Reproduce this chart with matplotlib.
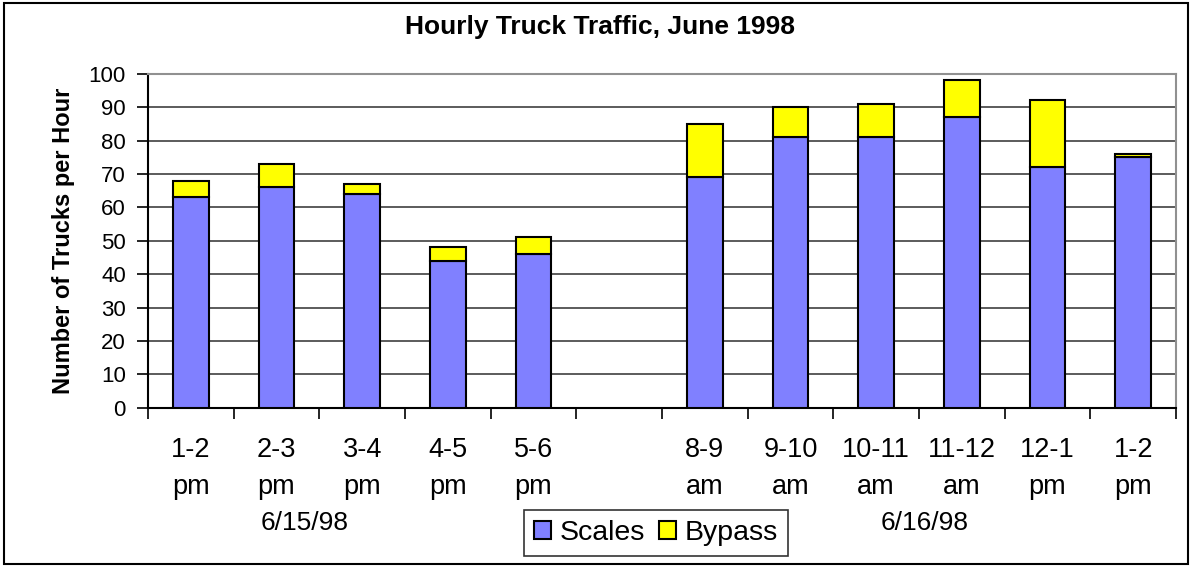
import numpy as np
import matplotlib
matplotlib.use("Agg")
import matplotlib.pyplot as plt
from matplotlib.patches import Rectangle

plt.rcParams['font.family'] = ['Liberation Sans', 'DejaVu Sans']

# hour slots, the empty one separates the two days
hours = ["1-2\npm", "2-3\npm", "3-4\npm", "4-5\npm", "5-6\npm", "",
         "8-9\nam", "9-10\nam", "10-11\nam", "11-12\nam", "12-1\npm", "1-2\npm"]
scales = [63, 66, 64, 44, 46, None, 69, 81, 81, 87, 72, 75]
bypass = [5, 7, 3, 4, 5, None, 16, 9, 10, 11, 20, 1]
days = ["6/15/98", "6/16/98"]
day_pos = [1.33, 8.57]

W, H = 1193, 567
fig = plt.figure(figsize=(W / 100, H / 100), dpi=100)
ax = fig.add_axes([148 / W, (H - 407.7) / H, (1176 - 148) / W, (407.7 - 73.7) / H])

x = np.arange(len(hours))
keep = [i for i in x if scales[i] is not None]
sc = [scales[i] for i in keep]
bp = [bypass[i] for i in keep]
ax.bar(keep, sc, width=0.42, color="#8080FF", edgecolor="black", linewidth=1.5,
       label="Scales", zorder=3)
ax.bar(keep, bp, width=0.42, bottom=sc, color="#FFFF00", edgecolor="black",
       linewidth=1.5, label="Bypass", zorder=3)

ax.set_xlim(-0.5, len(hours) - 0.5)
ax.set_ylim(0, 100)
ax.set_yticks(range(0, 101, 10))
ax.yaxis.grid(True, color="#404040", linewidth=1.2, zorder=0)

# boundaries get tick marks, centers get the labels
ax.set_xticks(np.arange(-0.5, len(hours), 1.0))
ax.set_xticklabels([])
ax.set_xticks(x, minor=True)
ax.set_xticklabels(hours, minor=True, fontsize=19.5, linespacing=1.55)
ax.tick_params(axis="x", which="major", direction="out", length=8, width=1.2)
ax.tick_params(axis="x", which="minor", length=0, pad=21)
ax.tick_params(axis="y", direction="out", length=8, width=1.2, labelsize=16, pad=8)

for s in ["top", "right"]:
    ax.spines[s].set_color("#909090")
    ax.spines[s].set_linewidth(1.5)
for s in ["left", "bottom"]:
    ax.spines[s].set_color("black")
    ax.spines[s].set_linewidth(1.5)

ax.set_ylabel("Number of Trucks per Hour", fontsize=17, fontweight="bold", labelpad=10)
fig.text(0.503, 1 - 27 / H, "Hourly Truck Traffic, June 1998", ha="center", va="center",
         fontsize=19, fontweight="bold")

for d, p in zip(days, day_pos):
    ax.text(p, -34.5, d, ha="center", va="center", fontsize=19, clip_on=False)

leg = fig.legend(loc="center", bbox_to_anchor=(656 / W, 1 - 533 / H), ncol=2,
                 fontsize=20.5, frameon=True, fancybox=False, edgecolor="black",
                 handlelength=0.6, handleheight=0.6, handletextpad=0.3,
                 columnspacing=0.5, borderpad=0.35, borderaxespad=0)
leg.get_frame().set_linewidth(1.2)

fig.patches.append(Rectangle((4 / W, 3 / H), (1188 - 4) / W, (564 - 3) / H,
                             transform=fig.transFigure, fill=False,
                             edgecolor="black", linewidth=1.5))

fig.savefig("out.png", dpi=100)
